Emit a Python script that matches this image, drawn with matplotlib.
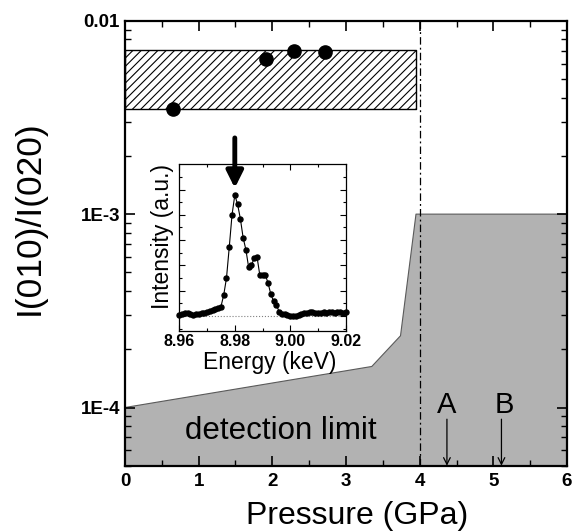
import matplotlib
matplotlib.use('Agg')
import matplotlib.pyplot as plt
import numpy as np
from matplotlib.ticker import (MultipleLocator, LogLocator, NullFormatter,
                               FixedLocator, FixedFormatter)

plt.rcParams['font.family'] = ['Liberation Sans', 'DejaVu Sans']
plt.rcParams['hatch.linewidth'] = 0.8

# ---------------- data ----------------
pressure_pts = [0.65, 1.91, 2.30, 2.72]
ratio_pts = [3.49e-3, 6.34e-3, 6.94e-3, 6.86e-3]

band_x = [0.0, 3.95]
band_low = 3.5e-3
band_high = 7.05e-3

limit_x = [0.0, 3.35, 3.74, 3.95, 6.0]
limit_y = [1.0e-4, 1.63e-4, 2.35e-4, 1.0e-3, 1.0e-3]

transition_p = 4.0
mark_labels = ['A', 'B']
mark_p = [4.37, 5.11]

x_ticks = [0, 1, 2, 3, 4, 5, 6]
y_ticks = [1e-4, 1e-3, 1e-2]
y_ticklabels = ['1E-4', '1E-3', '0.01']

energy = [8.960, 8.961, 8.962, 8.963, 8.964, 8.965, 8.966, 8.967, 8.968, 8.969,
          8.970, 8.971, 8.972, 8.973, 8.974, 8.975, 8.976, 8.977, 8.978, 8.979,
          8.980, 8.981, 8.982, 8.983, 8.984, 8.985, 8.986, 8.987, 8.988, 8.989,
          8.990, 8.991, 8.992, 8.993, 8.994, 8.995, 8.996, 8.997, 8.998, 8.999,
          9.000, 9.001, 9.002, 9.003, 9.004, 9.005, 9.006, 9.007, 9.008, 9.009,
          9.010, 9.011, 9.012, 9.013, 9.014, 9.015, 9.016, 9.017, 9.018, 9.019,
          9.020]
intensity = [0.04, 0.08, 0.13, 0.11, 0.07, 0.04, 0.07, 0.08, 0.11, 0.13,
             0.17, 0.20, 0.24, 0.29, 0.30, 0.37, 0.83, 1.50, 2.72, 4.00,
             4.78, 4.42, 3.85, 3.10, 2.62, 1.92, 2.00, 2.30, 2.35, 1.63,
             1.63, 1.63, 1.30, 0.86, 0.58, 0.42, 0.18, 0.10, 0.07, 0.04,
             0.00, 0.01, 0.01, 0.04, 0.08, 0.13, 0.11, 0.15, 0.17, 0.13,
             0.11, 0.13, 0.16, 0.13, 0.16, 0.15, 0.13, 0.15, 0.16, 0.14,
             0.18]
energy_ticks = [8.96, 8.98, 9.00, 9.02]
energy_ticklabels = ['8.96', '8.98', '9.00', '9.02']
peak_energy = 8.98

# ---------------- figure ----------------
fig = plt.figure(figsize=(5.77, 5.32), dpi=100)
ax = fig.add_axes([0.2166, 0.1246, 0.7661, 0.8364])
ax.set_yscale('log')
ax.set_xlim(0, 6)
ax.set_ylim(5e-5, 1e-2)

# detection limit region
ax.fill_between(limit_x, limit_y, 1e-6, facecolor='#b2b2b2', edgecolor='none', zorder=1)
ax.plot(limit_x, limit_y, color='#5a5a5a', lw=0.8, zorder=1.5)

# hatched band
ax.fill_between(band_x, band_low, band_high, facecolor='white', edgecolor='black',
                hatch='////', lw=1.0, zorder=2)

# transition line
ax.axvline(transition_p, color='black', lw=0.9, ls=(0, (6, 2.5, 1.5, 2.5)), zorder=3)

# data points
ax.plot(pressure_pts, ratio_pts, 'o', color='black', ms=9.5, zorder=6, clip_on=False)

ax.text(2.11, 6.86e-5, 'detection limit', fontsize=22.5, ha='center', va='baseline', zorder=4)

label_dx = [0.0, 0.05]
for lab, p, dx in zip(mark_labels, mark_p, label_dx):
    ax.annotate('', xy=(p, 5e-5), xytext=(p, 8.7e-5),
                arrowprops=dict(arrowstyle='->', color='black', lw=0.9,
                                shrinkA=0, shrinkB=0, mutation_scale=12),
                zorder=4)
    ax.text(p + dx - 0.01, 9.42e-5, lab, fontsize=21, ha='center', va='baseline', zorder=4)

ax.xaxis.set_major_locator(FixedLocator(x_ticks))
ax.xaxis.set_minor_locator(MultipleLocator(0.5))
ax.yaxis.set_major_locator(FixedLocator(y_ticks))
ax.yaxis.set_major_formatter(FixedFormatter(y_ticklabels))
ax.yaxis.set_minor_locator(LogLocator(base=10, subs=np.arange(2, 10) * 1.0, numticks=20))
ax.yaxis.set_minor_formatter(NullFormatter())
ax.tick_params(which='both', direction='in', top=True, right=True)
ax.tick_params(which='major', length=7, width=1.2)
ax.tick_params(which='minor', length=4, width=1.0)
ax.tick_params(axis='x', which='major', pad=5)
ax.tick_params(axis='y', which='major', pad=3.5)
for t in ax.get_xticklabels() + ax.get_yticklabels():
    t.set_fontsize(13.5)
    t.set_fontweight('bold')
for s in ax.spines.values():
    s.set_linewidth(1.6)
    s.set_zorder(7)

ax.set_xlabel('Pressure (GPa)', fontsize=23)
ax.xaxis.set_label_coords(0.525, -0.079)
ax.set_ylabel('I(010)/I(020)', fontsize=25.5)
ax.yaxis.set_label_coords(-0.18, 0.557)

# ---------------- inset ----------------
ax2 = fig.add_axes([0.3108, 0.3769, 0.2884, 0.3139])
ax2.set_xlim(8.96, 9.02)
ax2.set_ylim(-0.61, 5.99)
ax2.axhline(0, color='#808080', lw=0.8, ls=':', zorder=1)
ax2.plot(energy, intensity, '-o', color='black', lw=0.8, ms=3.6, zorder=3, clip_on=False)

ax2.xaxis.set_major_locator(FixedLocator(energy_ticks))
ax2.xaxis.set_major_formatter(FixedFormatter(energy_ticklabels))
ax2.xaxis.set_minor_locator(MultipleLocator(0.01))
ax2.yaxis.set_major_locator(MultipleLocator(1))
ax2.yaxis.set_minor_locator(MultipleLocator(0.5))
ax2.set_yticklabels([])
ax2.tick_params(which='both', direction='in', top=True, right=True)
ax2.tick_params(which='major', length=4, width=0.8)
ax2.tick_params(which='minor', length=2.5, width=0.8)
ax2.tick_params(axis='x', which='major', pad=2)
for t in ax2.get_xticklabels():
    t.set_fontsize(11.5)
    t.set_fontweight('bold')
for s in ax2.spines.values():
    s.set_linewidth(0.9)
ax2.set_xlabel('Energy (keV)', fontsize=16.5)
ax2.xaxis.set_label_coords(0.545, -0.115)
ax2.set_ylabel('Intensity (a.u.)', fontsize=16.5)
ax2.yaxis.set_label_coords(-0.035, 0.566)

ax2.annotate('', xy=(peak_energy, 5.06), xytext=(peak_energy, 7.04),
             arrowprops=dict(arrowstyle='-|>', lw=3.5, color='black',
                             mutation_scale=25, shrinkA=0, shrinkB=0),
             annotation_clip=False)

fig.savefig('out.png', dpi=100)
